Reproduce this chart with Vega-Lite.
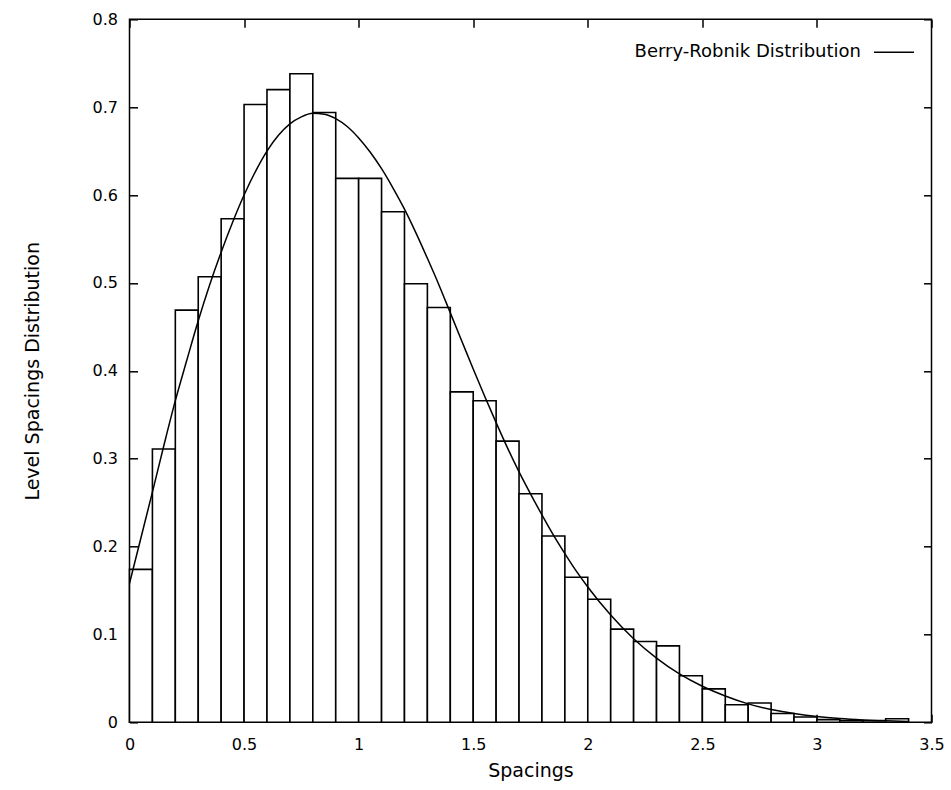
{
  "$schema": "https://vega.github.io/schema/vega-lite/v6.json",
  "width": 802,
  "height": 703,
  "autosize": {"type": "none"},
  "padding": {"left": 129.5, "top": 19.3, "right": 19.5, "bottom": 67.7},
  "background": "white",
  "config": {
    "view": {"stroke": "black", "strokeWidth": 1.5},
    "font": "DejaVu Sans",
    "axis": {
      "domain": false,
      "grid": false,
      "labelFlush": false,
      "tickColor": "black",
      "tickSize": -8,
      "tickWidth": 1.5,
      "labelFont": "DejaVu Sans",
      "labelFontSize": 16,
      "labelColor": "black",
      "titleFont": "DejaVu Sans",
      "titleFontSize": 19,
      "titleFontWeight": "normal",
      "titleColor": "black"
    }
  },
  "datasets": {
    "hist": [
      {"lo": 0.0, "hi": 0.1, "p": 0.174},
      {"lo": 0.1, "hi": 0.2, "p": 0.311},
      {"lo": 0.2, "hi": 0.3, "p": 0.469},
      {"lo": 0.3, "hi": 0.4, "p": 0.507},
      {"lo": 0.4, "hi": 0.5, "p": 0.573},
      {"lo": 0.5, "hi": 0.6, "p": 0.703},
      {"lo": 0.6, "hi": 0.7, "p": 0.72},
      {"lo": 0.7, "hi": 0.8, "p": 0.738},
      {"lo": 0.8, "hi": 0.9, "p": 0.694},
      {"lo": 0.9, "hi": 1.0, "p": 0.619},
      {"lo": 1.0, "hi": 1.1, "p": 0.619},
      {"lo": 1.1, "hi": 1.2, "p": 0.581},
      {"lo": 1.2, "hi": 1.3, "p": 0.499},
      {"lo": 1.3, "hi": 1.4, "p": 0.472},
      {"lo": 1.4, "hi": 1.5, "p": 0.376},
      {"lo": 1.5, "hi": 1.6, "p": 0.366},
      {"lo": 1.6, "hi": 1.7, "p": 0.32},
      {"lo": 1.7, "hi": 1.8, "p": 0.26},
      {"lo": 1.8, "hi": 1.9, "p": 0.212},
      {"lo": 1.9, "hi": 2.0, "p": 0.165},
      {"lo": 2.0, "hi": 2.1, "p": 0.14},
      {"lo": 2.1, "hi": 2.2, "p": 0.106},
      {"lo": 2.2, "hi": 2.3, "p": 0.092},
      {"lo": 2.3, "hi": 2.4, "p": 0.087},
      {"lo": 2.4, "hi": 2.5, "p": 0.053},
      {"lo": 2.5, "hi": 2.6, "p": 0.038},
      {"lo": 2.6, "hi": 2.7, "p": 0.02},
      {"lo": 2.7, "hi": 2.8, "p": 0.022},
      {"lo": 2.8, "hi": 2.9, "p": 0.01},
      {"lo": 2.9, "hi": 3.0, "p": 0.006},
      {"lo": 3.0, "hi": 3.1, "p": 0.003},
      {"lo": 3.1, "hi": 3.2, "p": 0.002},
      {"lo": 3.2, "hi": 3.3, "p": 0.002},
      {"lo": 3.3, "hi": 3.4, "p": 0.004}
    ],
    "curve": [
      {"s": 0.0, "p": 0.158, "series": "Berry-Robnik Distribution"},
      {"s": 0.05, "p": 0.21, "series": "Berry-Robnik Distribution"},
      {"s": 0.1, "p": 0.262, "series": "Berry-Robnik Distribution"},
      {"s": 0.15, "p": 0.315, "series": "Berry-Robnik Distribution"},
      {"s": 0.2, "p": 0.366, "series": "Berry-Robnik Distribution"},
      {"s": 0.25, "p": 0.412, "series": "Berry-Robnik Distribution"},
      {"s": 0.3, "p": 0.457, "series": "Berry-Robnik Distribution"},
      {"s": 0.35, "p": 0.498, "series": "Berry-Robnik Distribution"},
      {"s": 0.4, "p": 0.535, "series": "Berry-Robnik Distribution"},
      {"s": 0.45, "p": 0.569, "series": "Berry-Robnik Distribution"},
      {"s": 0.5, "p": 0.6, "series": "Berry-Robnik Distribution"},
      {"s": 0.55, "p": 0.627, "series": "Berry-Robnik Distribution"},
      {"s": 0.6, "p": 0.65, "series": "Berry-Robnik Distribution"},
      {"s": 0.65, "p": 0.668, "series": "Berry-Robnik Distribution"},
      {"s": 0.7, "p": 0.681, "series": "Berry-Robnik Distribution"},
      {"s": 0.75, "p": 0.689, "series": "Berry-Robnik Distribution"},
      {"s": 0.8, "p": 0.693, "series": "Berry-Robnik Distribution"},
      {"s": 0.85, "p": 0.692, "series": "Berry-Robnik Distribution"},
      {"s": 0.9, "p": 0.687, "series": "Berry-Robnik Distribution"},
      {"s": 0.95, "p": 0.678, "series": "Berry-Robnik Distribution"},
      {"s": 1.0, "p": 0.665, "series": "Berry-Robnik Distribution"},
      {"s": 1.05, "p": 0.649, "series": "Berry-Robnik Distribution"},
      {"s": 1.1, "p": 0.63, "series": "Berry-Robnik Distribution"},
      {"s": 1.15, "p": 0.608, "series": "Berry-Robnik Distribution"},
      {"s": 1.2, "p": 0.584, "series": "Berry-Robnik Distribution"},
      {"s": 1.25, "p": 0.557, "series": "Berry-Robnik Distribution"},
      {"s": 1.3, "p": 0.528, "series": "Berry-Robnik Distribution"},
      {"s": 1.35, "p": 0.498, "series": "Berry-Robnik Distribution"},
      {"s": 1.4, "p": 0.466, "series": "Berry-Robnik Distribution"},
      {"s": 1.45, "p": 0.434, "series": "Berry-Robnik Distribution"},
      {"s": 1.5, "p": 0.402, "series": "Berry-Robnik Distribution"},
      {"s": 1.55, "p": 0.371, "series": "Berry-Robnik Distribution"},
      {"s": 1.6, "p": 0.341, "series": "Berry-Robnik Distribution"},
      {"s": 1.65, "p": 0.312, "series": "Berry-Robnik Distribution"},
      {"s": 1.7, "p": 0.285, "series": "Berry-Robnik Distribution"},
      {"s": 1.75, "p": 0.26, "series": "Berry-Robnik Distribution"},
      {"s": 1.8, "p": 0.236, "series": "Berry-Robnik Distribution"},
      {"s": 1.85, "p": 0.213, "series": "Berry-Robnik Distribution"},
      {"s": 1.9, "p": 0.192, "series": "Berry-Robnik Distribution"},
      {"s": 1.95, "p": 0.172, "series": "Berry-Robnik Distribution"},
      {"s": 2.0, "p": 0.154, "series": "Berry-Robnik Distribution"},
      {"s": 2.1, "p": 0.122, "series": "Berry-Robnik Distribution"},
      {"s": 2.2, "p": 0.095, "series": "Berry-Robnik Distribution"},
      {"s": 2.3, "p": 0.073, "series": "Berry-Robnik Distribution"},
      {"s": 2.4, "p": 0.055, "series": "Berry-Robnik Distribution"},
      {"s": 2.5, "p": 0.041, "series": "Berry-Robnik Distribution"},
      {"s": 2.6, "p": 0.03, "series": "Berry-Robnik Distribution"},
      {"s": 2.7, "p": 0.021, "series": "Berry-Robnik Distribution"},
      {"s": 2.8, "p": 0.0145, "series": "Berry-Robnik Distribution"},
      {"s": 2.9, "p": 0.01, "series": "Berry-Robnik Distribution"},
      {"s": 3.0, "p": 0.0065, "series": "Berry-Robnik Distribution"},
      {"s": 3.1, "p": 0.0042, "series": "Berry-Robnik Distribution"},
      {"s": 3.2, "p": 0.0027, "series": "Berry-Robnik Distribution"},
      {"s": 3.3, "p": 0.0017, "series": "Berry-Robnik Distribution"},
      {"s": 3.4, "p": 0.001, "series": "Berry-Robnik Distribution"}
    ]
  },
  "layer": [
    {
      "data": {"name": "hist"},
      "mark": {"type": "rect", "fill": "white", "stroke": "black", "strokeWidth": 1.6},
      "encoding": {
        "x": {
          "field": "lo", "type": "quantitative",
          "scale": {"domain": [0, 3.5], "nice": false},
          "axis": {"orient": "bottom", "values": [0, 0.5, 1, 1.5, 2, 2.5, 3, 3.5], "format": "~g", "title": "Spacings", "labelPadding": 22, "titlePadding": 9}
        },
        "x2": {"field": "hi"},
        "y": {
          "field": "p", "type": "quantitative",
          "scale": {"domain": [0, 0.8], "nice": false},
          "axis": {"orient": "left", "values": [0, 0.1, 0.2, 0.3, 0.4, 0.5, 0.6, 0.7, 0.8], "format": "~g", "title": "Level Spacings Distribution", "labelPadding": 20, "titlePadding": 50}
        },
        "y2": {"datum": 0}
      }
    },
    {
      "data": {"name": "curve"},
      "mark": {"type": "line", "strokeWidth": 1.5, "interpolate": "monotone"},
      "encoding": {
        "x": {
          "field": "s", "type": "quantitative",
          "axis": {"orient": "top", "values": [0, 0.5, 1, 1.5, 2, 2.5, 3, 3.5], "labels": false, "title": null}
        },
        "y": {
          "field": "p", "type": "quantitative",
          "axis": {"orient": "right", "values": [0, 0.1, 0.2, 0.3, 0.4, 0.5, 0.6, 0.7, 0.8], "labels": false, "title": null}
        },
        "color": {
          "field": "series", "type": "nominal",
          "scale": {"range": ["black"]},
          "legend": {
            "title": null, "orient": "none", "legendX": 743.5, "legendY": 12,
            "symbolType": "stroke", "symbolSize": 1600, "symbolStrokeWidth": 1.5,
            "labelAlign": "right", "labelOffset": -54, "labelLimit": 400,
            "labelFont": "DejaVu Sans", "labelFontSize": 18, "labelColor": "black", "padding": 0
          }
        }
      }
    }
  ]
}
